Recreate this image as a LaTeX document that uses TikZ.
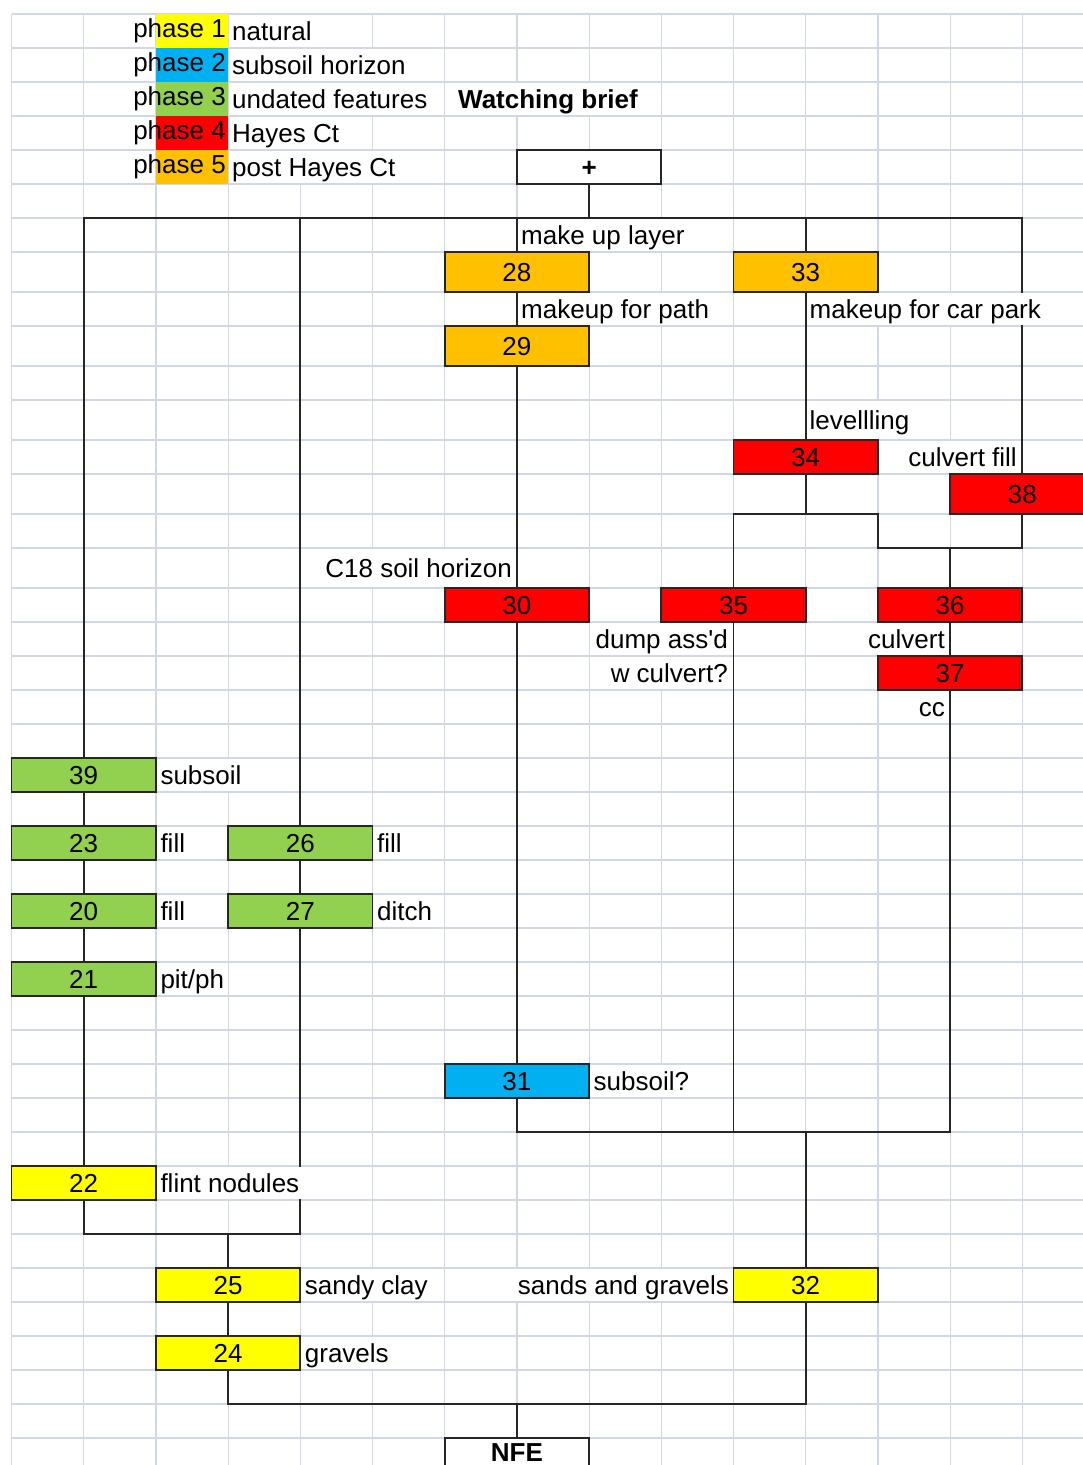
\documentclass[tikz,border=0pt]{standalone}
\usepackage{fontspec}
\setmainfont{Liberation Sans}
\usepackage{tikz}
\usetikzlibrary{positioning}

\definecolor{gridline}{RGB}{208,215,229}
\definecolor{natural}{RGB}{255,255,0}
\definecolor{subsoilh}{RGB}{0,176,240}
\definecolor{undated}{RGB}{146,208,80}
\definecolor{hayes}{RGB}{255,0,0}
\definecolor{posthayes}{RGB}{255,192,0}

\begin{document}
\begin{tikzpicture}[
  x=1pt, y=-1pt,
  font=\fontsize{26}{30}\selectfont,
  ctxbox/.style={draw=black!85, line width=1.8pt, inner sep=0pt, minimum width=144.4pt, minimum height=34pt, text height=18pt, text depth=0pt},
  tall/.style={minimum height=40pt},
  lbl/.style={fill=white, inner xsep=2pt, inner ysep=0pt, minimum height=32pt, text height=18pt, text depth=0pt},
  link/.style={draw=black!85, line width=1.8pt}
]
\useasboundingbox (0,0) rectangle (1083,1465);
\fill[white] (0,0) rectangle (1083,1465);

% sheet grid
\foreach \k in {0,...,14}
  \draw[gridline, line width=1.2pt] ({11.5+72.2*\k},14) -- ({11.5+72.2*\k},1465);
\foreach \r in {14,48,82,116,150,184,218,252,292,326,366,400,440,474,514,548,588,622,656,690,724,758,792,826,860,894,928,962,996,1030,1064,1098,1132,1166,1200,1234,1268,1302,1336,1370,1404,1438}
  \draw[gridline, line width=1.2pt] (11.5,\r) -- (1083,\r);

% key
\fill[natural] (155.9,14) rectangle (228.1,48);
\fill[subsoilh] (155.9,48) rectangle (228.1,82);
\fill[undated] (155.9,82) rectangle (228.1,116);
\fill[hayes] (155.9,116) rectangle (228.1,150);
\fill[posthayes] (155.9,150) rectangle (228.1,184);
\node[anchor=east, inner xsep=2pt] (ph1) at (228,31) {phase 1};
\node[anchor=east, inner xsep=2pt] (ph2) at (228,65) {phase 2};
\node[anchor=east, inner xsep=2pt] (ph3) at (228,99) {phase 3};
\node[anchor=east, inner xsep=2pt] (ph4) at (228,133) {phase 4};
\node[anchor=east, inner xsep=2pt] (ph5) at (228,167) {phase 5};
\node[lbl, anchor=west] (key1) at (230,31) {natural};
\node[lbl, anchor=west] (key2) at (230,65) {subsoil horizon};
\node[lbl, anchor=west] (key3) at (230,99) {undated features};
\node[lbl, anchor=west] (key4) at (230,133) {Hayes Ct};
\node[lbl, anchor=west] (key5) at (230,167) {post Hayes Ct};
\node[lbl, anchor=west] (title) at (456,99) {\bfseries Watching brief};

% contexts
\node[ctxbox, fill=white] (plus) at (589.1,167) {\bfseries +};
\node[ctxbox, tall, fill=posthayes] (c28) at (516.9,272) {28};
\node[ctxbox, tall, fill=posthayes] (c33) at (805.7,272) {33};
\node[ctxbox, tall, fill=posthayes] (c29) at (516.9,346) {29};
\node[ctxbox, fill=hayes] (c34) at (805.7,457) {34};
\node[ctxbox, tall, fill=hayes] (c38) at (1022.3,494) {38};
\node[ctxbox, fill=hayes] (c30) at (516.9,605) {30};
\node[ctxbox, fill=hayes] (c35) at (733.5,605) {35};
\node[ctxbox, fill=hayes] (c36) at (950.1,605) {36};
\node[ctxbox, fill=hayes] (c37) at (950.1,673) {37};
\node[ctxbox, fill=undated] (c39) at (83.7,775) {39};
\node[ctxbox, fill=undated] (c23) at (83.7,843) {23};
\node[ctxbox, fill=undated] (c26) at (300.3,843) {26};
\node[ctxbox, fill=undated] (c20) at (83.7,911) {20};
\node[ctxbox, fill=undated] (c27) at (300.3,911) {27};
\node[ctxbox, fill=undated] (c21) at (83.7,979) {21};
\node[ctxbox, fill=subsoilh] (c31) at (516.9,1081) {31};
\node[ctxbox, fill=natural] (c22) at (83.7,1183) {22};
\node[ctxbox, fill=natural] (c25) at (228.1,1285) {25};
\node[ctxbox, fill=natural] (c32) at (805.7,1285) {32};
\node[ctxbox, fill=natural] (c24) at (228.1,1353) {24};
\node[ctxbox, fill=white] (nfe) at (516.9,1455) {\raisebox{3pt}{\bfseries NFE}};

% junctions
\coordinate (top) at (589.1,218);
\coordinate (j1) at (877.9,514);
\coordinate (j2) at (877.9,548);
\coordinate (j3) at (805.7,1132);
\coordinate (j4) at (228.1,1234);
\coordinate (j5) at (516.9,1404);

% links
\draw[link] (plus) -- (top);
\draw[link] (c39) |- (top -| c38) -- (c38);
\draw[link] (top -| c26) -- (c26);
\draw[link] (top -| c28) -- (c28);
\draw[link] (top -| c33) -- (c33);
\draw[link] (c28) -- (c29);
\draw[link] (c29) -- (c30);
\draw[link] (c33) -- (c34);
\draw[link] (c34) -- (c34 |- j1);
\draw[link] (c35) |- (j1) -- (j2) -| (c38);
\draw[link] (c36 |- j2) -- (c36);
\draw[link] (c36) -- (c37);
\draw[link] (c30) -- (c31);
\draw[link] (c31) |- (c37 |- j3) -- (c37);
\draw[link] (c35) -- (c35 |- j3);
\draw[link] (j3) -- (c32);
\draw[link] (c39) -- (c23);
\draw[link] (c23) -- (c20);
\draw[link] (c20) -- (c21);
\draw[link] (c21) -- (c22);
\draw[link] (c26) -- (c27);
\draw[link] (c22) |- (c27 |- j4) -- (c27);
\draw[link] (j4) -- (c25);
\draw[link] (c25) -- (c24);
\draw[link] (c24) |- (c32 |- j5) -- (c32);
\draw[link] (j5) -- (nfe);

% descriptions
\node[lbl, anchor=west] (d28) at (519,235) {make up layer};
\node[lbl, anchor=west] (d29) at (519,309) {makeup for path};
\node[lbl, anchor=west] (d34b) at (807.5,309) {makeup for car park};
\node[lbl, anchor=west, minimum height=38pt] (d34) at (807.5,420) {levellling};
\node[lbl, anchor=east] (d38) at (1019,457) {culvert fill};
\node[lbl, anchor=east, minimum height=38pt] (d30) at (514,568) {C18 soil horizon};
\node[lbl, anchor=east] (d35a) at (730,639) {dump ass\textquotesingle d};
\node[lbl, anchor=east] (d35b) at (730,673) {w culvert?};
\node[lbl, anchor=east] (d36) at (947,639) {culvert};
\node[lbl, anchor=east] (d37) at (947,707) {cc};
\node[lbl, right=1.5pt of c39] (d39) {subsoil};
\node[lbl, right=1.5pt of c23] (d23) {fill};
\node[lbl, right=1.5pt of c26] (d26) {fill};
\node[lbl, right=1.5pt of c20] (d20) {fill};
\node[lbl, right=1.5pt of c27] (d27) {ditch};
\node[lbl, right=1.5pt of c21] (d21) {pit/ph};
\node[lbl, right=1.5pt of c31] (d31) {subsoil?};
\node[lbl, right=1.5pt of c22] (d22) {flint nodules};
\node[lbl, right=1.5pt of c25] (d25) {sandy clay};
\node[lbl, left=1.5pt of c32] (d32) {sands and gravels};
\node[lbl, right=1.5pt of c24] (d24) {gravels};
\end{tikzpicture}
\end{document}
